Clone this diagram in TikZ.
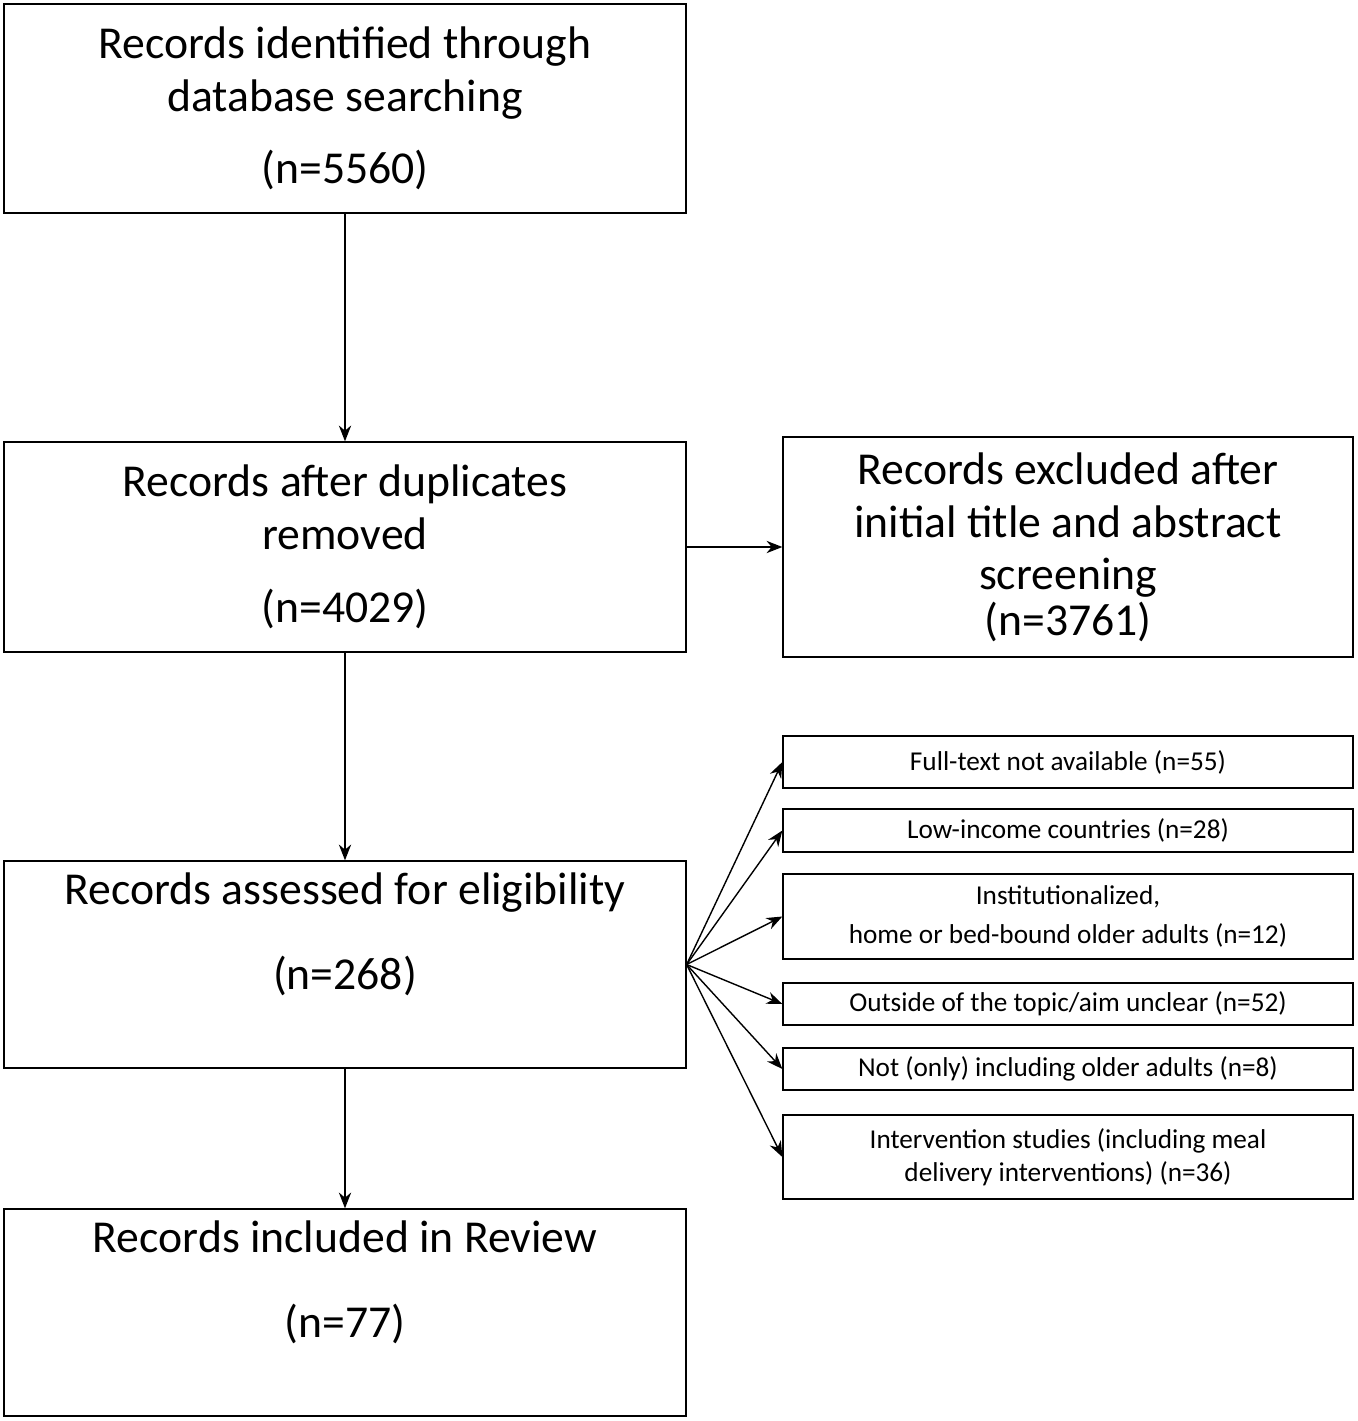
\documentclass[tikz,border=0pt]{standalone}
\usepackage{fontspec}
\setmainfont{Carlito}
\usetikzlibrary{arrows.meta}
\tikzset{
  big/.style={draw, thick, align=center, inner sep=0pt, font=\fontsize{26}{30}\selectfont},
  bigtext/.style={align=center, inner sep=0pt, font=\fontsize{26}{30}\selectfont},
  small/.style={draw, thick, align=center, inner sep=0pt, minimum width=11.4cm, font=\fontsize{15.5}{22}\selectfont},
  arr/.style={-{Stealth[length=9pt,width=7pt]}, thick}
}
\begin{document}
\begin{tikzpicture}[x=0.02cm, y=-0.02cm]
        \useasboundingbox (0,0) rectangle (1358,1421);
        % main column
        \node[big, minimum width=13.64cm, minimum height=4.18cm] (ident) at (345,108.5)
            {Records identified through\\database searching\\[0.4cm](n=5560)};
        \node[big, minimum width=13.64cm, minimum height=4.2cm] (dupl) at (345,547)
            {Records after duplicates\\removed\\[0.4cm](n=4029)};
        \node[big, minimum width=11.4cm, minimum height=4.4cm] (excl) at (1068,547)
            {Records excluded after\\initial title and abstract\\screening\\[-0.15cm](n=3761)};
        \node[draw, thick, minimum width=13.64cm, minimum height=4.14cm] (elig) at (345,964.5) {};
        \node[bigtext] (eligtext) at ([yshift=0.6cm]elig.center)
            {Records assessed for eligibility\\[0.65cm](n=268)};
        \node[draw, thick, minimum width=13.64cm, minimum height=4.14cm] (incl) at (345,1312.5) {};
        \node[bigtext] (incltext) at ([yshift=0.6cm]incl.center)
            {Records included in Review\\[0.65cm](n=77)};
        % reasons for exclusion
        \node[small, minimum height=1.04cm] (fulltext) at (1068,762) {Full-text not available (n=55)};
        \node[small, minimum height=0.86cm] (income) at (1068,830.5) {Low-income countries (n=28)};
        \node[small, minimum height=1.7cm] (inst) at (1068,916.5) {Institutionalized,\\home or bed-bound older adults (n=12)};
        \node[small, minimum height=0.84cm] (topic) at (1068,1004) {Outside of the topic/aim unclear (n=52)};
        \node[small, minimum height=0.84cm] (older) at (1068,1069) {Not (only) including older adults (n=8)};
        \node[small, minimum height=1.68cm, font=\fontsize{15.5}{18.5}\selectfont] (interv) at (1068,1157)
            {Intervention studies (including meal\\delivery interventions) (n=36)};
        \coordinate (fan) at (elig.east);

        \draw[arr] (ident) -- (dupl);
        \draw[arr] (dupl) -- (elig);
        \draw[arr] (elig) -- (incl);
        \draw[arr] (dupl.east) -- (excl.west);
        \foreach \r in {fulltext,income,inst,topic,older,interv}
            \draw[arr] (fan) -- (\r.west);
\end{tikzpicture}
\end{document}
